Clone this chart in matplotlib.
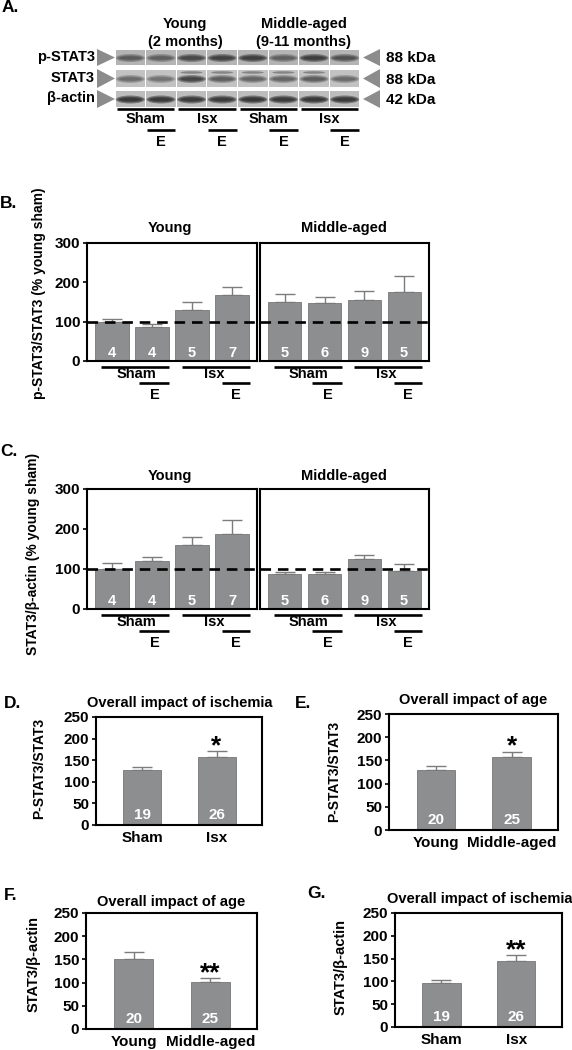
import matplotlib
matplotlib.use('Agg')
import matplotlib.pyplot as plt
from matplotlib.patches import Polygon, Rectangle, Ellipse
from matplotlib.transforms import blended_transform_factory, ScaledTranslation
import numpy as np

plt.rcParams['font.family'] = ['Liberation Sans', 'DejaVu Sans']
plt.rcParams['font.weight'] = 'bold'

W, H = 572, 1050

# ---- data ----
blot_rows = ['p-STAT3', 'STAT3', 'β-actin']
blot_kda = ['88 kDa', '88 kDa', '42 kDa']
# band darkness per lane (estimated from the blot)
pstat3_band = [0.6, 0.55, 0.78, 0.85, 0.88, 0.55, 0.9, 0.68]
stat3_band = [0.5, 0.45, 0.85, 0.6, 0.55, 0.55, 0.62, 0.5]
actin_band = [1.0, 0.98, 0.97, 0.95, 1.0, 0.97, 1.0, 0.97]

b_young = [100, 87, 130, 168]
b_young_err = [7, 7, 20, 19]
b_young_n = [4, 4, 5, 7]
b_mid = [150, 148, 155, 176]
b_mid_err = [21, 15, 23, 41]
b_mid_n = [5, 6, 9, 5]

c_young = [100, 120, 160, 188]
c_young_err = [16, 11, 20, 34]
c_young_n = [4, 4, 5, 7]
c_mid = [88, 88, 126, 96]
c_mid_err = [5, 5, 10, 17]
c_mid_n = [5, 6, 9, 5]

d_labels = ['Sham', 'Isx']
d_vals = [127, 157]
d_err = [7, 14]
d_n = [19, 26]

e_labels = ['Young', 'Middle-aged']
e_vals = [129, 157]
e_err = [9, 12]
e_n = [20, 25]

f_labels = ['Young', 'Middle-aged']
f_vals = [150, 102]
f_err = [16, 7]
f_n = [20, 25]

g_labels = ['Sham', 'Isx']
g_vals = [97, 145]
g_err = [5, 12]
g_n = [19, 26]

BAR = '#8d8e90'
ERR = '#7c7c7c'

fig = plt.figure(figsize=(W / 100, H / 100), dpi=100)


def px_axes(x0, y0, x1, y1):
    return fig.add_axes([x0 / W, 1 - y1 / H, (x1 - x0) / W, (y1 - y0) / H])


def below(ax, dy):
    # x in data, y = axes bottom shifted down by dy pixels
    return blended_transform_factory(ax.transData, ax.transAxes) + \
        ScaledTranslation(0, -dy / 100, fig.dpi_scale_trans)


def group_panel(ax, vals, errs, ns, show_y):
    x = np.arange(len(vals))
    ax.bar(x, vals, width=0.83, color=BAR, edgecolor='#777777', lw=0.6, zorder=2)
    ax.errorbar(x, vals, yerr=[np.zeros(len(vals)), errs], fmt='none', ecolor=ERR,
                elinewidth=1.0, capsize=7, capthick=1.0, zorder=1)
    ax.axhline(100, color='k', lw=1.9, ls=(0, (4, 2.6)), zorder=3)
    ax.set_xlim(-0.625, 3.625)
    ax.set_ylim(0, 300)
    ax.set_xticks([])
    for s in ax.spines.values():
        s.set_linewidth(1.5)
    if show_y:
        ax.set_yticks([0, 100, 200, 300])
        ax.tick_params(axis='y', labelsize=11, length=3, width=1.2, pad=2)
    else:
        ax.set_yticks([])
    tr = blended_transform_factory(ax.transData, ax.transAxes)
    for i, n in enumerate(ns):
        ax.text(x[i], 0.07, str(n), transform=tr, color='white', ha='center',
                va='center', fontsize=10.5)
    # treatment bars underneath
    for x0, x1, dy in [(-0.27, 1.43, 6), (1.74, 3.45, 6), (0.68, 1.43, 22), (2.74, 3.45, 22)]:
        ax.plot([x0, x1], [0, 0], transform=below(ax, dy), color='k', lw=1.9,
                clip_on=False, solid_capstyle='butt')
    ax.text(0.6, 0, 'Sham', transform=below(ax, 13), ha='center', va='center', fontsize=10.5)
    ax.text(2.55, 0, 'Isx', transform=below(ax, 13), ha='center', va='center', fontsize=10.5)
    ax.text(1.07, 0, 'E', transform=below(ax, 34), ha='center', va='center', fontsize=10.5)
    ax.text(3.1, 0, 'E', transform=below(ax, 34), ha='center', va='center', fontsize=10.5)


def summary_panel(ax, labels, vals, errs, ns, stars):
    x = np.arange(len(vals))
    ax.bar(x, vals, width=0.51, color=BAR, edgecolor='#777777', lw=0.6, zorder=2)
    ax.errorbar(x, vals, yerr=[np.zeros(len(vals)), errs], fmt='none', ecolor=ERR,
                elinewidth=1.0, capsize=7, capthick=1.0, zorder=1)
    ax.set_xlim(-0.62, 1.61)
    ax.set_ylim(0, 250)
    ax.set_yticks([0, 50, 100, 150, 200, 250])
    ax.tick_params(axis='y', labelsize=11, length=3, width=1.2, pad=2)
    ax.set_xticks(x)
    ax.set_xticklabels(labels, fontsize=11)
    ax.tick_params(axis='x', length=0, pad=4)
    for s in ax.spines.values():
        s.set_linewidth(1.5)
    tr = blended_transform_factory(ax.transData, ax.transAxes)
    for i, n in enumerate(ns):
        ax.text(x[i], 0.09, str(n), transform=tr, color='white', ha='center',
                va='center', fontsize=11)
    ax.annotate(stars, (x[1], vals[1] + errs[1]), xytext=(0, -5), textcoords='offset points',
                ha='center', va='bottom', fontsize=19)


# ---- B and C ----
axb1 = px_axes(87, 243, 257, 361)
axb2 = px_axes(260, 243, 429, 361)
group_panel(axb1, b_young, b_young_err, b_young_n, True)
group_panel(axb2, b_mid, b_mid_err, b_mid_n, False)

axc1 = px_axes(87, 489, 257, 609)
axc2 = px_axes(260, 489, 429, 609)
group_panel(axc1, c_young, c_young_err, c_young_n, True)
group_panel(axc2, c_mid, c_mid_err, c_mid_n, False)

# ---- D-G ----
axd = px_axes(96, 717, 262, 825)
summary_panel(axd, d_labels, d_vals, d_err, d_n, '*')
axe = px_axes(389, 714, 558, 830)
summary_panel(axe, e_labels, e_vals, e_err, e_n, '*')
axf = px_axes(86, 913, 257, 1029)
summary_panel(axf, f_labels, f_vals, f_err, f_n, '**')
axg = px_axes(395, 913, 562, 1027)
summary_panel(axg, g_labels, g_vals, g_err, g_n, '**')

# ---- overlay in pixel coordinates: blot, labels ----
ov = fig.add_axes([0, 0, 1, 1])
ov.set_xlim(0, W)
ov.set_ylim(H, 0)
ov.axis('off')
ov.patch.set_alpha(0)
ov.set_zorder(10)

# western blot
lane_x0, lane_x1 = 115, 360
n_lanes = 8
lane_w = (lane_x1 - lane_x0) / n_lanes
row_spans = [(50, 65), (70, 87), (91, 107)]
row_bg = ['#b4b4b4', '#c2c2c2', '#bdbdbd']
bands = [pstat3_band, stat3_band, actin_band]
for r, (y0, y1) in enumerate(row_spans):
    ym = (y0 + y1) / 2
    for i in range(n_lanes):
        lx = lane_x0 + i * lane_w
        ov.add_patch(Rectangle((lx + 0.6, y0), lane_w - 1.2, y1 - y0, color=row_bg[r], lw=0))
        dark = bands[r][i]
        for sw, sh in [(29, 8), (26, 5.5), (22, 3.5)]:
            ov.add_patch(Ellipse((lx + lane_w / 2, ym + 0.5), sw, sh,
                                 color='#1a1a1a', alpha=dark * 0.42, lw=0))
        if r == 1 and dark > 0.5:
            ov.add_patch(Ellipse((lx + lane_w / 2, y0 + 2.5), 22, 2.5,
                                 color='#2a2a2a', alpha=0.4, lw=0))
    # arrows
    ov.add_patch(Polygon([(97, y0 - 1), (97, y1 + 1), (115, ym)], closed=True, color='#8c8c8c', lw=0))
    ov.add_patch(Polygon([(380, y0 - 1), (380, y1 + 1), (363, ym)], closed=True, color='#8c8c8c', lw=0))
    ov.text(95, ym - 1, blot_rows[r], ha='right', va='center', fontsize=10.5)
    ov.text(386, ym + 1, blot_kda[r], ha='left', va='center', fontsize=11)

ov.text(185, 24, 'Young', ha='center', va='center', fontsize=10.5)
ov.text(185, 42, '(2 months)', ha='center', va='center', fontsize=10.5)
ov.text(304, 24, 'Middle-aged', ha='center', va='center', fontsize=10.5)
ov.text(304, 42, '(9-11 months)', ha='center', va='center', fontsize=10.5)

for g, name in enumerate(['Sham', 'Isx', 'Sham', 'Isx']):
    gx0 = lane_x0 + 2 * g * lane_w
    gx1 = gx0 + 2 * lane_w
    ov.plot([gx0 + 2, gx1 - 2], [109, 109], color='k', lw=1.9, solid_capstyle='butt')
    ov.plot([gx0 + lane_w + 1, gx1 - 1], [130, 130], color='k', lw=1.9, solid_capstyle='butt')
    ov.text((gx0 + gx1) / 2, 119, name, ha='center', va='center', fontsize=10.5)
    ov.text(gx0 + 1.5 * lane_w, 142, 'E', ha='center', va='center', fontsize=10.5)

# panel titles
ov.text(170, 228, 'Young', ha='center', va='center', fontsize=10.5)
ov.text(344, 228, 'Middle-aged', ha='center', va='center', fontsize=10.5)
ov.text(170, 476, 'Young', ha='center', va='center', fontsize=10.5)
ov.text(344, 476, 'Middle-aged', ha='center', va='center', fontsize=10.5)
ov.text(180, 703, 'Overall impact of ischemia', ha='center', va='center', fontsize=10.5)
ov.text(473, 700, 'Overall impact of age', ha='center', va='center', fontsize=10.5)
ov.text(171, 902, 'Overall impact of age', ha='center', va='center', fontsize=10.5)
ov.text(480, 899, 'Overall impact of ischemia', ha='center', va='center', fontsize=10.5)

# y labels
ov.text(39, 293, 'p-STAT3/STAT3 (% young sham)', rotation=90, ha='center', va='center', fontsize=10)
ov.text(33, 554, 'STAT3/β-actin (% young sham)', rotation=90, ha='center', va='center', fontsize=10)
ov.text(39, 768, 'P-STAT3/STAT3', rotation=90, ha='center', va='center', fontsize=10)
ov.text(334, 771, 'P-STAT3/STAT3', rotation=90, ha='center', va='center', fontsize=10)
ov.text(34, 964, 'STAT3/β-actin', rotation=90, ha='center', va='center', fontsize=10.5)
ov.text(341, 967, 'STAT3/β-actin', rotation=90, ha='center', va='center', fontsize=10.5)

# panel letters
for letter, x, y in [('A.', 2, 8), ('B.', 0, 203), ('C.', 0, 451), ('D.', 4, 703),
                     ('E.', 295, 703), ('F.', 4, 895), ('G.', 307, 893)]:
    ov.text(x, y, letter, ha='left', va='center', fontsize=12.5)

fig.savefig('out.png', dpi=100)
